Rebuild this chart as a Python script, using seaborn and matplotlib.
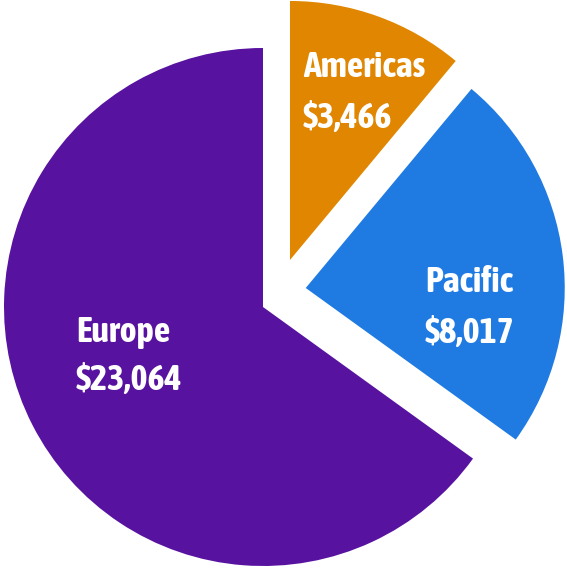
import matplotlib
matplotlib.use("Agg")
import matplotlib.pyplot as plt
from matplotlib.patches import Shadow
import seaborn as sns

regions = ["Americas", "Pacific", "Europe"]
values = [3466, 8017, 23064]
value_labels = ["$3,466", "$8,017", "$23,064"]
# slice share (%) as drawn in the picture (angles)
drawn_share = [11.05, 23.9, 65.05]
colors = ["#E08600", "#1F7BE2", "#5812A0"]

sns.set_style("white")
plt.rcParams['font.family'] = ['Asap Condensed', 'DejaVu Sans']

fig = plt.figure(figsize=(5.67, 5.69), dpi=100)
ax = fig.add_axes([0, 0, 1, 1])
wedges, _ = ax.pie(drawn_share, colors=colors, startangle=90, counterclock=False,
                   radius=1.0, wedgeprops=dict(linewidth=0, zorder=2))

# pulled-out slices
offsets = {"Americas": (0.1042, 0.1815), "Pacific": (0.1650, 0.0734), "Europe": (0.0, 0.0)}
for name, w in zip(regions, wedges):
    w.set_center(offsets[name])

# soft drop shadow
for w in wedges:
    for i in range(1, 9):
        s = Shadow(w, ox=1.5 + i * 0.5, oy=-(1.5 + i * 0.5), facecolor='black',
                   edgecolor='black', linewidth=i * 1.3, alpha=0.028, zorder=1)
        ax.add_patch(s)

ax.set_xlim(-1.0154, 1.1737)
ax.set_ylim(-1.0116, 1.1853)
ax.set_aspect('equal')
ax.axis('off')

label_pos = {
    "Americas": (0.1544, 0.888, 0.691),
    "Pacific": (0.6255, 0.0579, -0.139),
    "Europe": (-0.722, -0.135, -0.3205),
}
for name, val in zip(regions, value_labels):
    x, y1, y2 = label_pos[name]
    ax.text(x, y1, name, color='white', fontsize=26, fontweight='bold',
            ha='left', va='baseline', zorder=5)
    ax.text(x, y2, val, color='white', fontsize=26, fontweight='bold',
            ha='left', va='baseline', zorder=5)

fig.savefig("out.png", dpi=100)
